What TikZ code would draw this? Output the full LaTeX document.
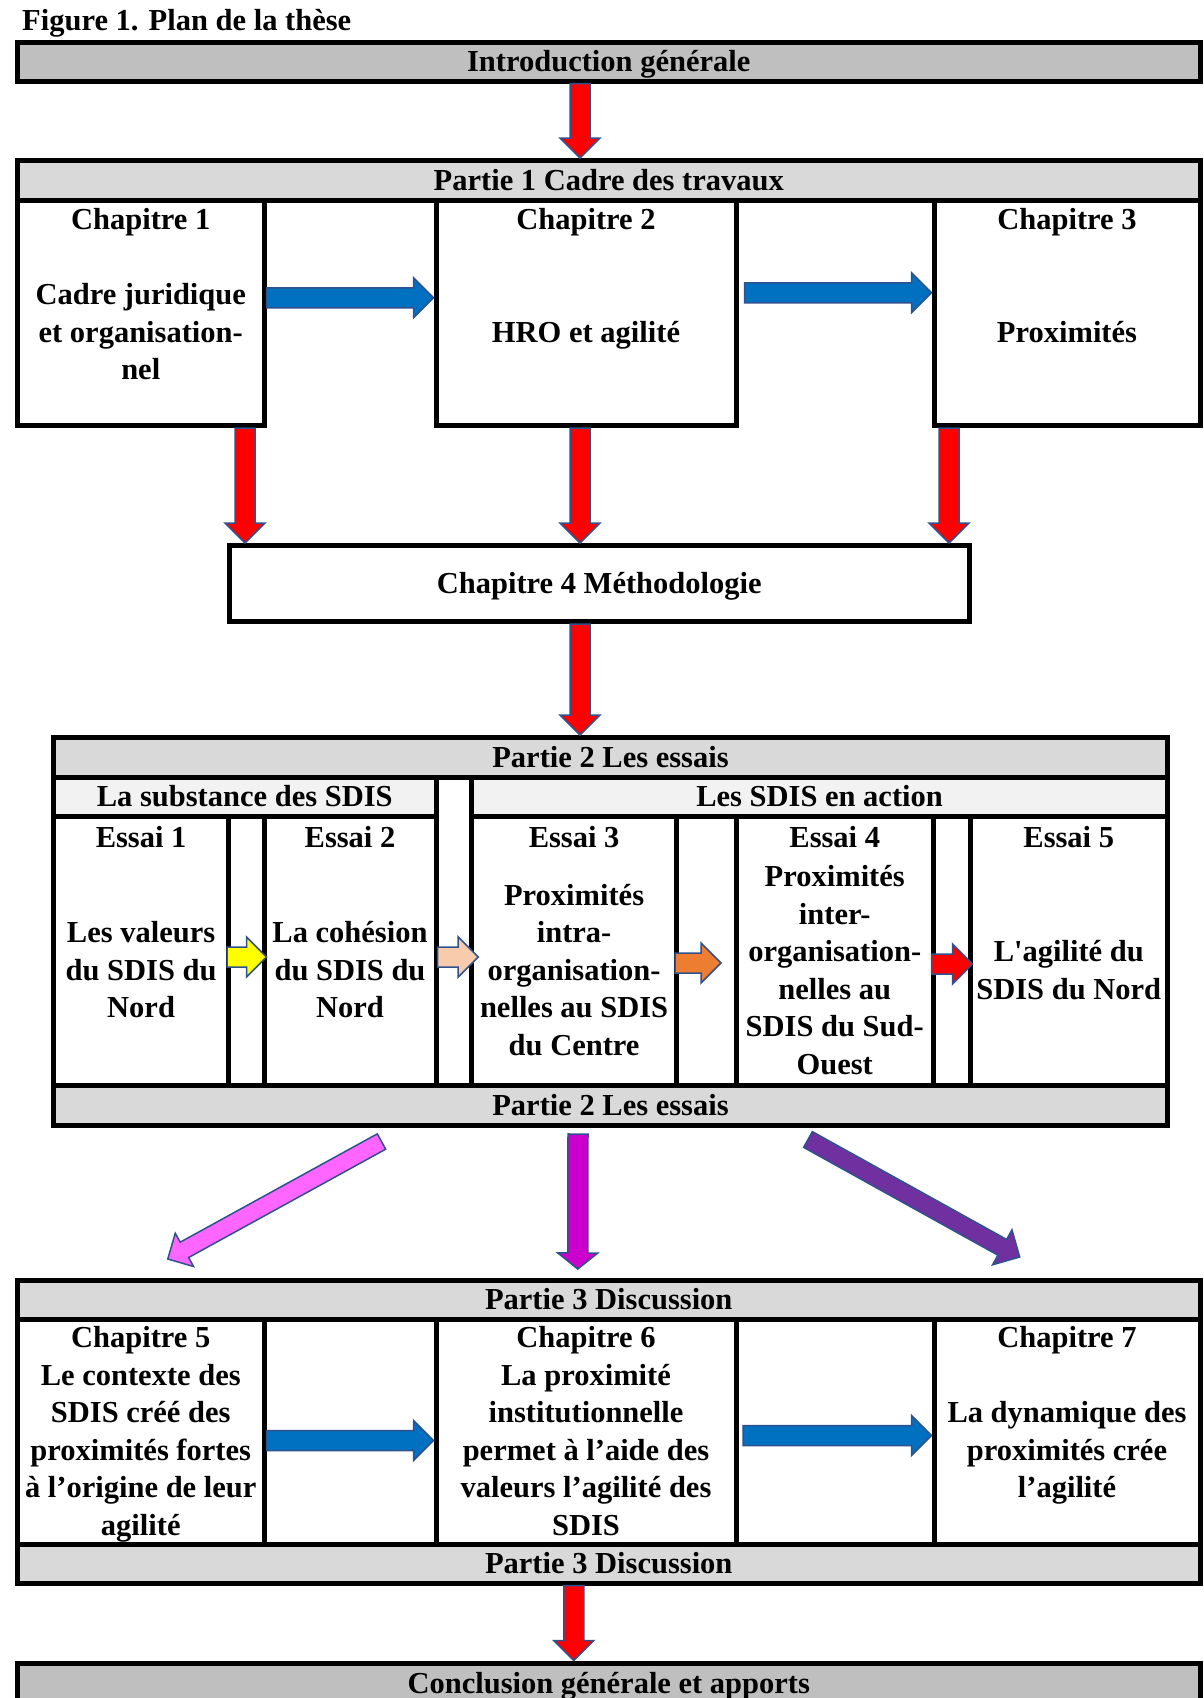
\documentclass[tikz,border=0pt]{standalone}
\usepackage{fontspec}
\setmainfont{Liberation Serif}
\usetikzlibrary{calc,fit,positioning}

\definecolor{grisfonce}{HTML}{BFBFBF}
\definecolor{gris}{HTML}{D9D9D9}
\definecolor{grisclair}{HTML}{F2F2F2}
\definecolor{bordfleche}{HTML}{2F528F}
\definecolor{rouge}{HTML}{FF0000}
\definecolor{bleu}{HTML}{0070C0}
\definecolor{jaune}{HTML}{FFFF00}
\definecolor{saumon}{HTML}{F8CBAD}
\definecolor{orangefonce}{HTML}{ED7D31}
\definecolor{rose}{HTML}{FF66FF}
\definecolor{fuchsia}{HTML}{CC00CC}
\definecolor{pourpre}{HTML}{7030A0}

% dimensions des flèches pleines
\tikzset{
    tige/.initial=10pt,
    pointe/.initial=20pt,
    bec/.initial=20pt,
}
\newcommand{\dtige}{\pgfkeysvalueof{/tikz/tige}}
\newcommand{\dpointe}{\pgfkeysvalueof{/tikz/pointe}}
\newcommand{\lbec}{\pgfkeysvalueof{/tikz/bec}}

\begin{document}
\begin{tikzpicture}[x=1pt, y=-1pt, font=\fontsize{30.5}{37.5}\selectfont\bfseries]
    % Styles
    \tikzstyle{boite} = [rectangle, draw=black, line width=5pt, inner sep=0pt]
    \tikzstyle{entete} = [inner sep=0pt, text height=20pt, text depth=0pt]
    \tikzstyle{texte} = [align=center, inner sep=0pt]
    \tikzstyle{fleche} = [draw=bordfleche, line width=1.5pt,
        to path={let \p1=(\tikztostart), \p2=(\tikztotarget),
            \n1={atan2(\y2-\y1,\x2-\x1)}, \n2={veclen(\x2-\x1,\y2-\y1)} in
            [shift={(\p1)}, rotate=\n1]
            ({0pt},{-\dtige}) -- ({\n2-\lbec},{-\dtige}) -- ({\n2-\lbec},{-\dpointe})
            -- ({\n2},{0pt}) -- ({\n2-\lbec},{\dpointe}) -- ({\n2-\lbec},{\dtige})
            -- ({0pt},{\dtige}) -- cycle}]

    \useasboundingbox (0,0) rectangle (1203,1698);

    \node[anchor=base west, inner sep=0pt] (figure) at (22,30) {Figure 1. Plan de la thèse};

    % Introduction
    \node[boite, fill=grisfonce, fit={(17.5,42) (1200,81)}] (intro) {};
    \node[entete] (tintro) at (intro.center) {Introduction générale};

    % Partie 1
    \node[boite, fill=gris, fit={(17.5,160.5) (1200,200)}] (p1) {};
    \node[entete] (tp1) at (p1.center) {Partie 1 Cadre des travaux};
    \node[boite, fit={(17.5,200) (264,425.5)}] (ch1) {};
    \node[boite, fit={(436,200) (736,425.5)}] (ch2) {};
    \node[boite, fit={(934,200) (1200,425.5)}] (ch3) {};
    \node[texte, below=11pt of ch1.north] (tch1) {Chapitre 1\\[37.5pt]Cadre juridique\\et organisation-\\nel};
    \node[texte, below=11pt of ch2.north] (tch2) {Chapitre 2\\[75pt]HRO et agilité};
    \node[texte, below=11pt of ch3.north] (tch3) {Chapitre 3\\[75pt]Proximités};

    \node[boite, fit={(229.5,545.5) (969,621.5)}] (ch4) {};
    \node[entete] (tch4) at (ch4.center) {Chapitre 4 Méthodologie};

    % Partie 2
    \node[boite, fill=gris, fit={(53.5,737.5) (1167.5,777)}] (p2) {};
    \node[boite, fill=grisclair, fit={(53.5,777) (436,816.5)}] (subst) {};
    \node[boite, fill=grisclair, fit={(471.7,777) (1167.5,816.5)}] (action) {};
    \node[boite, fit={(53.5,816.5) (228.7,1085.5)}] (e1) {};
    \node[boite, fit={(264,816.5) (436,1085.5)}] (e2) {};
    \node[boite, fit={(471.7,816.5) (676.5,1085.5)}] (e3) {};
    \node[boite, fit={(736,816.5) (933.5,1085.5)}] (e4) {};
    \node[boite, fit={(970,816.5) (1167.5,1085.5)}] (e5) {};
    \node[boite, fill=gris, fit={(53.5,1085.5) (1167.5,1125.5)}] (p2b) {};
    \node[entete] (tp2) at (p2.center) {Partie 2 Les essais};
    \node[entete] (tsubst) at (subst.center) {La substance des SDIS};
    \node[entete] (taction) at (action.center) {Les SDIS en action};
    \node[entete] (tp2b) at (p2b.center) {Partie 2 Les essais};

    \node[texte, below=12pt of e1.north] (te1) {Essai 1};
    \node[texte, below=12pt of e2.north] (te2) {Essai 2};
    \node[texte, below=12pt of e3.north] (te3) {Essai 3};
    \node[texte, below=12pt of e4.north] (te4) {Essai 4};
    \node[texte, below=12pt of e5.north] (te5) {Essai 5};
    \node[texte] (ve1) at ([yshift=-19pt]e1.center) {Les valeurs\\du SDIS du\\Nord};
    \node[texte] (ve2) at ([yshift=-19pt]e2.center) {La cohésion\\du SDIS du\\Nord};
    \node[texte] (ve3) at ([yshift=-19pt]e3.center) {Proximités\\intra-\\organisation-\\nelles au SDIS\\du Centre};
    \node[texte] (ve4) at ([yshift=-19pt]e4.center) {Proximités\\inter-\\organisation-\\nelles au\\SDIS du Sud-\\Ouest};
    \node[texte] (ve5) at ([yshift=-19pt]e5.center) {L\textquotesingle agilité du\\SDIS du Nord};

    % Partie 3
    \node[boite, fill=gris, fit={(17.5,1280) (1200,1319)}] (p3) {};
    \node[boite, fit={(17.5,1319) (264,1544)}] (ch5) {};
    \node[boite, fit={(436,1319) (736,1544)}] (ch6) {};
    \node[boite, fit={(934,1319) (1200,1544)}] (ch7) {};
    \node[boite, fill=gris, fit={(17.5,1544) (1200,1583)}] (p3b) {};
    \node[entete] (tp3) at (p3.center) {Partie 3 Discussion};
    \node[entete] (tp3b) at (p3b.center) {Partie 3 Discussion};
    \node[texte, below=10pt of ch5.north] (tch5) {Chapitre 5\\Le contexte des\\SDIS créé des\\proximités fortes\\à l’origine de leur\\agilité};
    \node[texte, below=10pt of ch6.north] (tch6) {Chapitre 6\\La proximité\\institutionnelle\\permet à l’aide des\\valeurs l’agilité des\\SDIS};
    \node[texte, below=10pt of ch7.north] (tch7) {Chapitre 7\\[37.5pt]La dynamique des\\proximités crée\\l’agilité};

    % Conclusion
    \node[boite, fill=grisfonce, fit={(17.5,1663) (1200,1703)}] (concl) {};
    \node[entete] (tconcl) at (concl.center) {Conclusion générale et apports};

    % Flèches
    \coordinate (axe) at (580,0);
    \coordinate (axeg) at (245,0);
    \coordinate (axed) at (949,0);

    \draw[fleche, fill=rouge] (intro.south -| axe) to (p1.north -| axe);
    \draw[fleche, fill=bleu] ([yshift=15pt]ch1.east) to ([yshift=15pt]ch2.west);
    \draw[fleche, fill=bleu] ([xshift=6pt, yshift=20pt]ch2.east) to ([yshift=20pt]ch3.west);
    \draw[fleche, fill=rouge] (ch1.south -| axeg) to (ch4.north -| axeg);
    \draw[fleche, fill=rouge] (ch2.south -| axe) to (ch4.north -| axe);
    \draw[fleche, fill=rouge] (ch3.south -| axed) to (ch4.north -| axed);
    \draw[fleche, fill=rouge] (ch4.south -| axe) to (p2.north -| axe);

    \draw[fleche, fill=jaune] ([xshift=-4pt, yshift=-6pt]e1.east) to ([xshift=5pt, yshift=-6pt]e2.west);
    \draw[fleche, fill=saumon] ([xshift=-1pt, yshift=-6pt]e2.east) to ([xshift=9pt, yshift=-6pt]e3.west);
    \draw[fleche, fill=orangefonce] ([xshift=-4pt, yshift=-12pt]e3.east) to ([xshift=42pt, yshift=-12pt]e3.east);
    \draw[fleche, fill=rouge] ([xshift=-4.5pt, yshift=-13pt]e4.east) to ([xshift=5pt, yshift=-13pt]e5.west);

    \draw[fleche, fill=rose, tige=8.75pt, pointe=19pt, bec=19pt] ([xshift=-229pt, yshift=-13.5pt]p2b.south) to ([xshift=-441pt, yshift=18.5pt]p3.north);
    \draw[fleche, fill=fuchsia, bec=16pt] ([xshift=-32.5pt, yshift=-6pt]p2b.south) to ([xshift=-31pt, yshift=8.5pt]p3.north);
    \draw[fleche, fill=pourpre, tige=9pt] ([xshift=197.5pt, yshift=-11.5pt]p2b.south) to ([xshift=411pt, yshift=20.5pt]p3.north);

    \draw[fleche, fill=bleu] ([yshift=-9pt]ch5.east) to ([yshift=-9pt]ch6.west);
    \draw[fleche, fill=bleu] ([xshift=4.5pt, yshift=-4pt]ch6.east) to ([yshift=-4pt]ch7.west);
    \draw[fleche, fill=rouge] ([xshift=-35pt]p3b.south) to ([xshift=-35pt]concl.north);
\end{tikzpicture}
\end{document}
